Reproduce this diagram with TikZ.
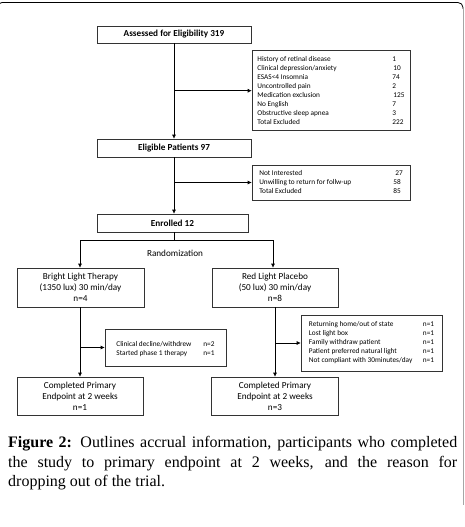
\documentclass[tikz,border=0pt]{standalone}
\usepackage{fontspec}
\setmainfont{Liberation Serif}
\newfontfamily\calfont{Carlito}
\usetikzlibrary{arrows.meta}
\tikzset{
  box/.style={draw=black!80, line width=0.6pt, inner sep=0pt, font=\calfont\fontsize{9.2}{11}\selectfont, align=center},
  headbox/.style={box, font=\calfont\bfseries\fontsize{9.2}{10}\selectfont},
  listbox/.style={draw=black!80, line width=0.6pt, inner sep=0pt, font=\calfont\fontsize{7.3}{9}\selectfont},
  conn/.style={line width=0.6pt, black},
  arr/.style={conn, -{Latex[length=4pt,width=4pt]}},
}
\begin{document}
\begin{tikzpicture}[x=1pt,y=-1pt]
\useasboundingbox (0,0) rectangle (465,527);
\fill[white] (0,0) rectangle (465,527);
% frame
\draw[black, line width=0.8pt, rounded corners=5pt] (-3,20) |- (463,2.5) -- (463,9);
\draw[black!35, line width=0.8pt] (463,9) -- (463,505);

\node[headbox, minimum width=154pt, minimum height=17pt] (assess) at (174,34.5) {Assessed for Eligibility 319};
\node[headbox, minimum width=154pt, minimum height=18pt] (elig) at (174,148) {Eligible Patients 97};
\node[headbox, minimum width=151pt, minimum height=18pt] (enrol) at (172.5,223) {Enrolled 12};

\node[listbox, minimum width=158pt, minimum height=80pt] (excl1) at (331,90.7) {%
\begin{tabular}{@{}p{135pt}@{}l@{}}
History of retinal disease & 1\\
Clinical depression/anxiety & \hspace{1pt}10\\
ESAS<4 Insomnia & 74\\
Uncontrolled pain & 2\\
Medication exclusion & \hspace{1pt}125\\
No English & 7\\
Obstructive sleep apnea & 3\\
Total Excluded & 222
\end{tabular}};

\node[listbox, minimum width=158pt, minimum height=35pt] (excl2) at (331,182.5) {%
\begin{tabular}{@{}p{134pt}@{}l@{}}
Not Interested & \hspace{2pt}27\\
Unwilling to return for follw-up & 58\\
Total Excluded & 85
\end{tabular}};

\node[box, minimum width=127pt, minimum height=39pt] (bright) at (80.5,287.5) {Bright Light Therapy\\(1350 lux) 30 min/day\\n=4};
\node[box, minimum width=126pt, minimum height=39pt] (red) at (275,287.5) {Red Light Placebo\\(50 lux) 30 min/day\\n=8};

\coordinate (split) at (174,240);
\coordinate (lsplit) at (80,240);
\coordinate (rsplit) at (273,240);
\node[font=\calfont\fontsize{9.2}{10}\selectfont] (rand) at (175,253) {Randomization};

\node[listbox, minimum width=121pt, minimum height=37pt] (drop1) at (165.5,347.5) {%
\begin{tabular}{@{}p{87pt}@{}l@{}}
\rule{0pt}{10pt}Clinical decline/withdrew & n=2\\
Started phase 1 therapy & n=1
\end{tabular}};

\node[listbox, minimum width=141pt, minimum height=56pt] (drop2) at (371.5,343) {%
\begin{tabular}{@{}p{114pt}@{}l@{}}
Returning home/out of state & n=1\\
Lost light box & n=1\\
Family withdraw patient & n=1\\
Patient preferred natural light & n=1\\
Not compliant with 30minutes/day & n=1
\end{tabular}};

\node[box, minimum width=126pt, minimum height=38pt] (comp1) at (80,396) {Completed Primary\\Endpoint at 2 weeks\\n=1};
\node[box, minimum width=127pt, minimum height=38pt] (comp2) at (275,396) {Completed Primary\\Endpoint at 2 weeks\\n=3};

% connectors
\draw[arr] (assess.south) -- (elig.north);
\draw[arr] (assess.south |- excl1.west) -- (excl1.west);
\draw[arr] (elig.south) -- (enrol.north -| elig.south);
\draw[arr] (elig.south |- excl2.west) -- (excl2.west);
\draw[conn] (enrol.south -| split) -- (split);
\draw[conn] (lsplit) -- (rsplit);
\draw[arr] (lsplit) -- (lsplit |- bright.north);
\draw[arr] (rsplit) -- (rsplit |- red.north);
\draw[arr] (bright.south -| comp1.north) -- (comp1.north);
\draw[arr] (red.south -| comp2.north) -- (comp2.north);
\draw[arr] (comp1.north |- drop1.west) -- (drop1.west);
\draw[arr] (comp2.north |- drop2.west) -- (drop2.west);

\node[anchor=north west, inner sep=0pt, text width=449pt, align=justify, font=\fontsize{16}{19.7}\selectfont] (caption) at (8,436) {\textbf{Figure 2:} Outlines accrual information, participants who completed\linebreak the study to primary endpoint at 2 weeks, and the reason for\linebreak dropping out of the trial.};
\end{tikzpicture}
\end{document}
